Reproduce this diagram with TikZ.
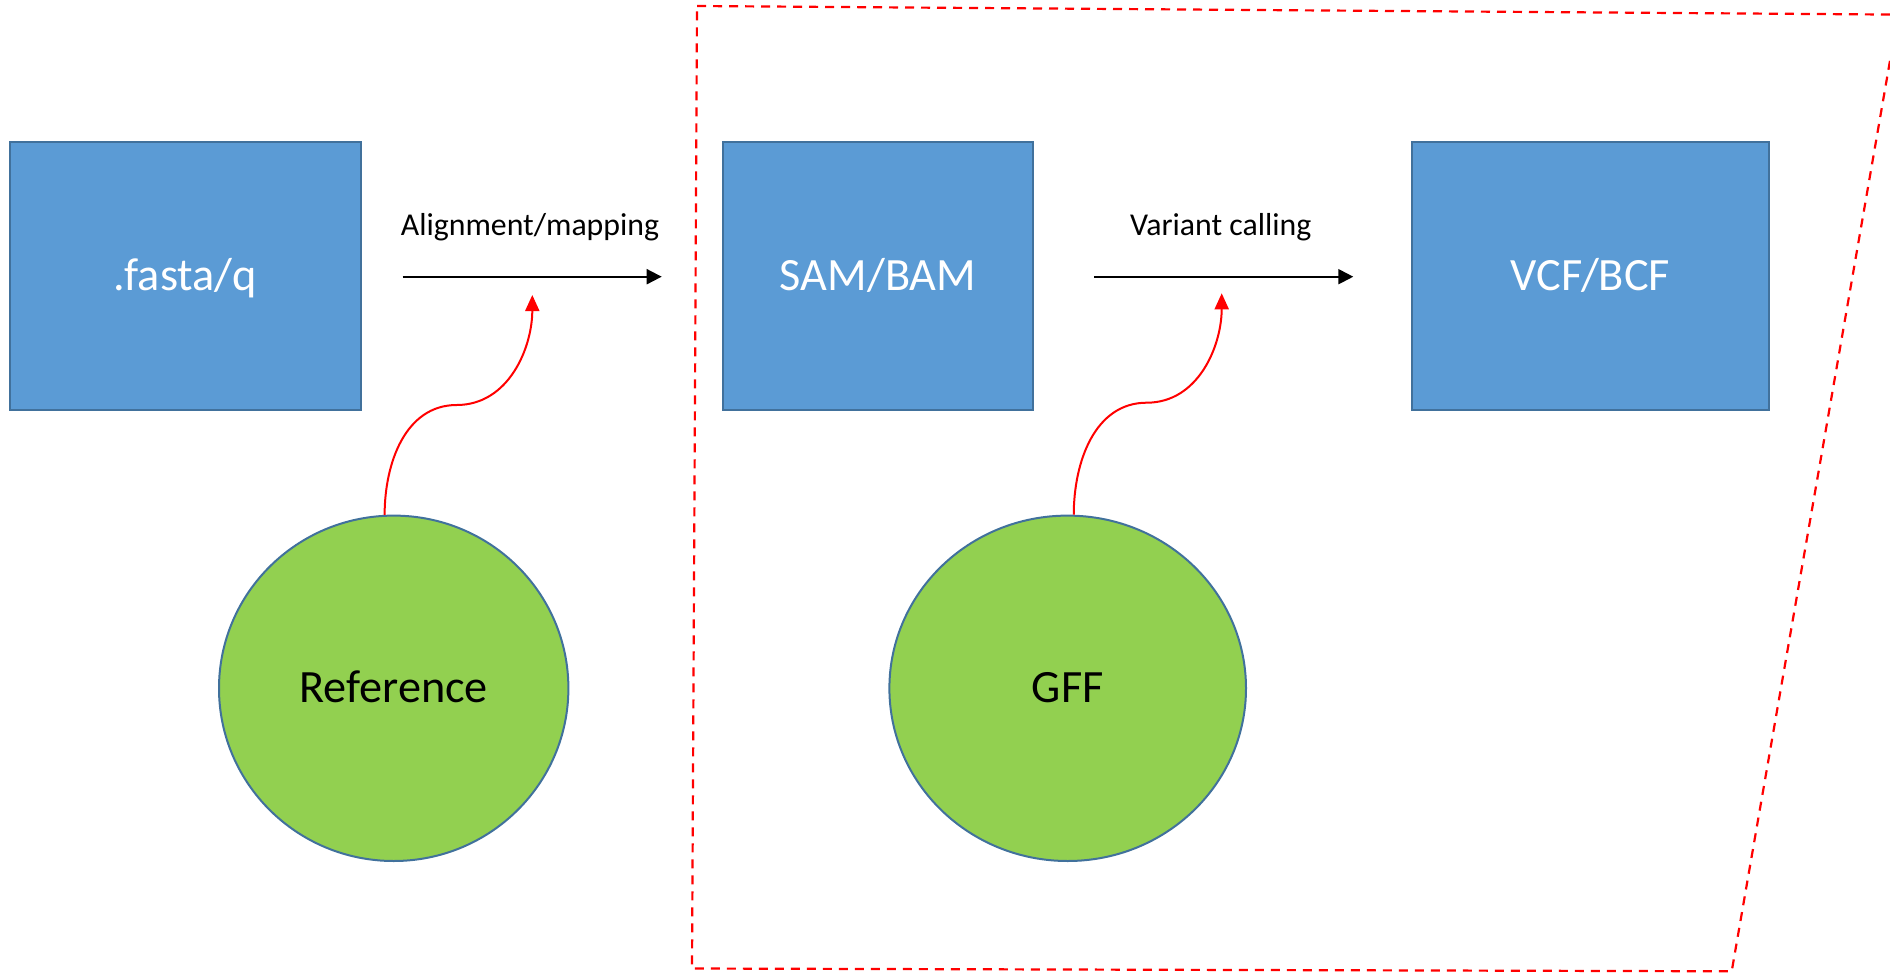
\documentclass[tikz,border=0pt]{standalone}
\usepackage{fontspec}
\setmainfont{Carlito}
\usetikzlibrary{arrows.meta,shapes.geometric}
\definecolor{boxblue}{HTML}{5B9BD5}
\definecolor{edgeblue}{HTML}{41719C}
\definecolor{leafgreen}{HTML}{92D050}
\begin{document}
\begin{tikzpicture}[x=0.5pt,y=-0.5pt,
  filebox/.style={draw=edgeblue, line width=1pt, fill=boxblue, inner sep=0pt,
    minimum height=134.15pt, text=white, text height=14.63pt, text depth=0pt,
    font=\fontsize{23.15}{28}\selectfont},
  inputdisc/.style={ellipse, draw=edgeblue, line width=1pt, fill=leafgreen, inner sep=0pt,
    minimum height=172.7pt, text=black, text height=14.63pt, text depth=0pt,
    font=\fontsize{23.15}{28}\selectfont},
  steplabel/.style={anchor=base, inner sep=0pt, font=\fontsize{15.9}{19}\selectfont},
  flowarrow/.style={draw=black, line width=1pt, -{Triangle[length=7.5pt,width=7.5pt]}},
  feedarrow/.style={draw=red, line width=1pt, -{Triangle[length=8pt,width=7pt]}},
  region/.style={draw=red, line width=1.1pt, dash pattern=on 4.5pt off 3.5pt}
]
\useasboundingbox (0,0) rectangle (1890,974);
\begin{scope}
  \clip (0,0) rectangle (1890,974);
  \draw[region] (697,6) -- (1898,14.6) -- (1731.7,971.3) -- (692,968.5) -- cycle;
\end{scope}

\node[filebox, minimum width=175.5pt] (fasta) at (185.5,275.85) {.fasta/q};
\node[filebox, minimum width=154.7pt] (sam) at (878,275.85) {SAM/BAM};
\node[filebox, minimum width=178.65pt] (vcf) at (1590.35,275.85) {VCF/BCF};

\node[inputdisc, minimum width=174.7pt] (ref) at (393.7,688.3) {Reference};
\node[inputdisc, minimum width=178.3pt] (gff) at (1067.7,688.3) {GFF};

\node[steplabel] (lab1) at (530,235) {Alignment/mapping};
\node[steplabel] (lab2) at (1220.7,235) {Variant calling};

\coordinate (a1s) at (402.7,276.7);
\coordinate (a1e) at (661.7,276.7);
\coordinate (a2s) at (1094,276.7);
\coordinate (a2e) at (1353.3,276.7);
\draw[flowarrow] (a1s) -- (a1e);
\draw[flowarrow] (a2s) -- (a2e);

\coordinate (m1) at (456.7,405);
\coordinate (t1) at (532.3,295);
\coordinate (m2) at (1146.7,402.7);
\coordinate (t2) at (1221.7,293.3);
\draw[feedarrow] (ref.93.5) to[out=90,in=180] (m1) to[out=0,in=-90] (t1);
\draw[feedarrow] (gff.88.3) to[out=90,in=180] (m2) to[out=0,in=-90] (t2);
\end{tikzpicture}
\end{document}
